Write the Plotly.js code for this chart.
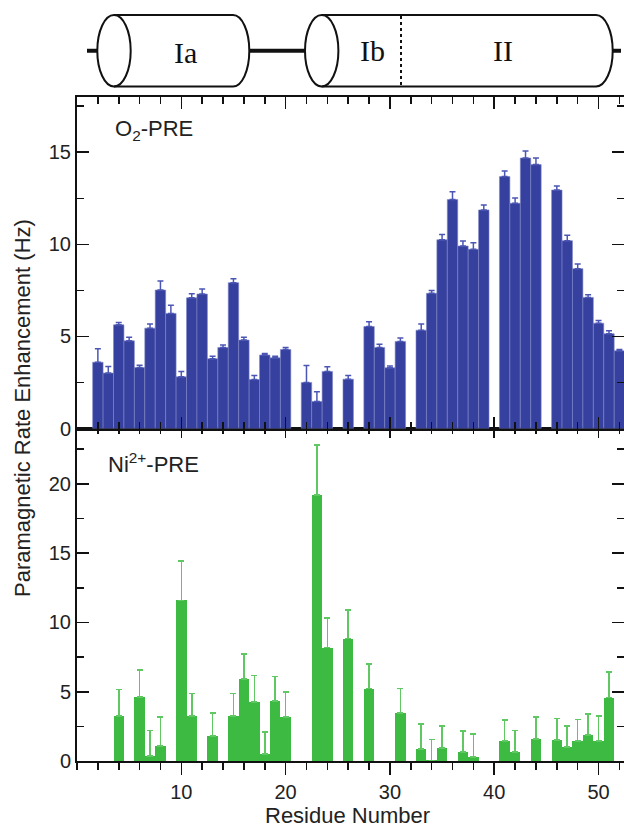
<!DOCTYPE html>
<html>
<head>
<meta charset="utf-8">
<script src="https://cdn.plot.ly/plotly-3.0.1.min.js"></script>
<style>html,body{margin:0;padding:0;background:#fff;}#chart{width:624px;height:827px;}</style>
</head>
<body>
<div id="chart"></div>
<script>
// Residue numbers
const residues = [1,2,3,4,5,6,7,8,9,10,11,12,13,14,15,16,17,18,19,20,21,22,23,24,25,26,
  27,28,29,30,31,32,33,34,35,36,37,38,39,40,41,42,43,44,45,46,47,48,49,50,51,52];
// O2-PRE (Hz) and upper error
const o2Rate = [null,3.60,3.01,5.63,4.76,3.31,5.45,7.52,6.25,2.81,7.10,7.30,3.79,4.40,7.92,4.80,2.66,3.99,3.84,4.29,
  null,2.50,1.47,3.10,null,2.68,null,5.54,4.40,3.30,4.73,null,5.34,7.34,10.25,12.43,9.91,9.73,11.87,null,
  13.68,12.23,14.69,14.33,null,12.95,10.20,8.68,7.12,5.72,5.15,4.22];
const o2Err = [null,0.73,0.36,0.13,0.19,0.13,0.22,0.49,0.45,0.29,0.22,0.27,0.14,0.13,0.21,0.15,0.22,0.09,0.09,0.11,
  null,0.92,0.52,0.25,null,0.20,null,0.26,0.18,0.09,0.18,null,0.33,0.16,0.29,0.43,0.27,0.36,0.27,null,
  0.31,0.29,0.38,0.36,null,0.22,0.29,0.25,0.15,0.15,0.16,0.07];
// Ni2+-PRE (Hz) and upper error
const niRate = [null,null,null,3.26,null,4.64,0.36,1.09,null,11.59,3.26,null,1.81,null,3.26,5.94,4.28,0.51,4.35,3.19,
  null,null,19.20,8.19,null,8.84,null,5.22,null,null,3.48,null,0.87,0.05,0.94,null,0.65,0.29,null,null,
  1.45,0.65,null,1.59,null,1.52,1.01,1.45,1.88,1.45,4.57,null];
const niErr = [null,null,null,1.91,null,1.91,1.84,2.10,null,2.83,1.62,null,1.64,null,1.62,1.79,1.88,1.59,1.74,1.81,
  null,null,3.63,2.12,null,2.08,null,1.76,null,null,1.76,null,1.81,1.50,1.60,null,1.52,1.67,null,null,
  1.52,1.55,null,1.57,null,1.55,1.53,1.55,1.53,1.81,1.86,null];
const yTickVals = [0,5,10,15,20];
const xTickVals = [10,20,30,40,50];
const panelLabels = ['O<sub>2</sub>-PRE','Ni<sup>2+</sup>-PRE'];
const helixLabels = ['Ia','Ib','II'];

const BLUE = '#36409e', BLUE_ERR = '#4b56b4';
const GREEN = '#3dba41', GREEN_ERR = '#5fc862';
const SANS = 'Liberation Sans';
const SERIF = 'Liberation Serif';

const traces = [
  {type:'bar', x:residues, y:o2Rate, xaxis:'x2', yaxis:'y2', width:1,
   marker:{color:BLUE, line:{color:'#7d86c6', width:0.6}},
   error_y:{type:'data', symmetric:false, array:o2Err, arrayminus:o2Err.map(v=>v===null?null:0),
            color:BLUE_ERR, thickness:1.5, width:3},
   hoverinfo:'x+y', showlegend:false},
  {type:'bar', x:residues, y:niRate, xaxis:'x', yaxis:'y', width:1,
   marker:{color:GREEN, line:{color:GREEN, width:0}},
   error_y:{type:'data', symmetric:false, array:niErr, arrayminus:niErr.map(v=>v===null?null:0),
            color:GREEN_ERR, thickness:1.6, width:3},
   hoverinfo:'x+y', showlegend:false},
  {type:'scatter', x:[], y:[], xaxis:'x4', yaxis:'y', showlegend:false, hoverinfo:'skip'},
  {type:'scatter', x:[], y:[], xaxis:'x3', yaxis:'y3', showlegend:false, hoverinfo:'skip'}
];

const W = 624, H = 827, ML = 77, MB = 66;
const PW = W - ML, PH = H - MB;
const px = v => (v - ML) / PW;      // pixel x -> paper
const py = v => (PH - v) / PH;      // pixel y -> paper

const XR = [0, 52.44];
const botTop = 0.4369, topTop = 0.8725;
const axBase = {showline:true, linecolor:'#111', linewidth:2, showgrid:false, zeroline:false,
  tickcolor:'#111', tickwidth:1.6, tickfont:{family:SANS, size:20, color:'#222'}};

function halfEllipse(cx, cy, rx, ry){
  const k = 0.5523;
  return `M ${cx},${cy-ry} C ${cx+k*rx},${cy-ry} ${cx+rx},${cy-k*ry} ${cx+rx},${cy} ` +
         `C ${cx+rx},${cy+k*ry} ${cx+k*rx},${cy+ry} ${cx},${cy+ry}`;
}
const L = {color:'#111', width:2};
const yT = 15, yB = 86.5, yC = 50.75, ry = 35.75;
const shapes = [
  {type:'line', xref:'x3', yref:'y3', x0:87, x1:97.3, y0:yC, y1:yC, line:{color:'#111', width:4}},
  {type:'circle', xref:'x3', yref:'y3', x0:97.3, x1:130.7, y0:yT, y1:yB, line:L},
  {type:'line', xref:'x3', yref:'y3', x0:114, x1:233, y0:yT, y1:yT, line:L},
  {type:'line', xref:'x3', yref:'y3', x0:114, x1:233, y0:yB, y1:yB, line:L},
  {type:'path', xref:'x3', yref:'y3', path:halfEllipse(233, yC, 16.3, ry), line:L},
  {type:'line', xref:'x3', yref:'y3', x0:249.3, x1:305, y0:yC, y1:yC, line:{color:'#111', width:4}},
  {type:'circle', xref:'x3', yref:'y3', x0:305, x1:338.4, y0:yT, y1:yB, line:L},
  {type:'line', xref:'x3', yref:'y3', x0:321.7, x1:596, y0:yT, y1:yT, line:L},
  {type:'line', xref:'x3', yref:'y3', x0:321.7, x1:596, y0:yB, y1:yB, line:L},
  {type:'path', xref:'x3', yref:'y3', path:halfEllipse(596, yC, 16.7, ry), line:L},
  {type:'line', xref:'x3', yref:'y3', x0:612.7, x1:621, y0:yC, y1:yC, line:{color:'#111', width:4}},
  {type:'line', xref:'x3', yref:'y3', x0:401, x1:401, y0:yT+1, y1:yB-1, line:{color:'#111', width:2, dash:'dot'}}
];

const annotations = [
  {xref:'paper', yref:'paper', x:px(113), y:py(130), text:panelLabels[0], showarrow:false, xanchor:'left', yanchor:'middle',
   font:{family:SANS, size:22, color:'#222'}},
  {xref:'paper', yref:'paper', x:px(106), y:py(463), text:panelLabels[1], showarrow:false, xanchor:'left', yanchor:'middle',
   font:{family:SANS, size:22, color:'#222'}},
  {xref:'x3', yref:'y3', x:185, y:52, text:helixLabels[0], showarrow:false, font:{family:SERIF, size:30, color:'#111'}},
  {xref:'x3', yref:'y3', x:372, y:50, text:helixLabels[1], showarrow:false, font:{family:SERIF, size:30, color:'#111'}},
  {xref:'x3', yref:'y3', x:503, y:50, text:helixLabels[2], showarrow:false, font:{family:SERIF, size:30, color:'#111'}},
  {xref:'paper', yref:'paper', x:px(22), y:py(408), text:'Paramagnetic Rate Enhancement (Hz)', textangle:-90, showarrow:false,
   xanchor:'center', yanchor:'middle', font:{family:SANS, size:22, color:'#222'}},
  {xref:'paper', yref:'paper', x:px(347), y:py(815), text:'Residue Number', showarrow:false,
   xanchor:'center', yanchor:'middle', font:{family:SANS, size:22, color:'#222'}}
];

const layout = {
  width:W, height:H, margin:{l:ML, r:0, t:0, b:MB},
  paper_bgcolor:'#fff', plot_bgcolor:'rgba(0,0,0,0)',
  bargap:0, showlegend:false,
  xaxis: Object.assign({}, axBase, {anchor:'y', domain:[0,1], range:XR, tickmode:'array', tickvals:xTickVals,
    ticks:'outside', ticklen:12, mirror:false,
    minor:{dtick:2, tick0:0, ticks:'outside', ticklen:7, tickcolor:'#111', tickwidth:1.6}}),
  xaxis4: Object.assign({}, axBase, {anchor:'y', overlaying:'x', side:'top', range:XR, tickmode:'array', tickvals:xTickVals,
    showticklabels:false, ticks:'inside', ticklen:9,
    minor:{dtick:2, tick0:0, ticks:'inside', ticklen:5, tickcolor:'#111', tickwidth:1.6}}),
  xaxis2: Object.assign({}, axBase, {anchor:'y2', domain:[0,1], range:XR, tickmode:'array', tickvals:xTickVals,
    showticklabels:false, ticks:'inside', ticklen:12, mirror:'ticks',
    minor:{dtick:2, tick0:0, ticks:'inside', ticklen:7, tickcolor:'#111', tickwidth:1.6}}),
  yaxis: Object.assign({}, axBase, {anchor:'x', domain:[0,botTop], range:[0,24], tickmode:'array', tickvals:yTickVals,
    ticks:'inside', ticklen:12, mirror:'ticks',
    minor:{dtick:2.5, tick0:0, ticks:'inside', ticklen:7, tickcolor:'#111', tickwidth:1.6}}),
  yaxis2: Object.assign({}, axBase, {anchor:'x2', domain:[botTop,topTop], range:[0,18], tickmode:'array', tickvals:yTickVals.slice(0,4),
    ticks:'inside', ticklen:12, mirror:'ticks',
    minor:{dtick:2.5, tick0:0, ticks:'inside', ticklen:7, tickcolor:'#111', tickwidth:1.6}}),
  xaxis3: {anchor:'y3', domain:[0,1], range:[ML,W], visible:false, fixedrange:true},
  yaxis3: {anchor:'x3', domain:[topTop,1], range:[97,0], visible:false, fixedrange:true},
  shapes: shapes,
  annotations: annotations
};

Plotly.newPlot('chart', traces, layout, {displayModeBar:false, staticPlot:true});
</script>
</body>
</html>
